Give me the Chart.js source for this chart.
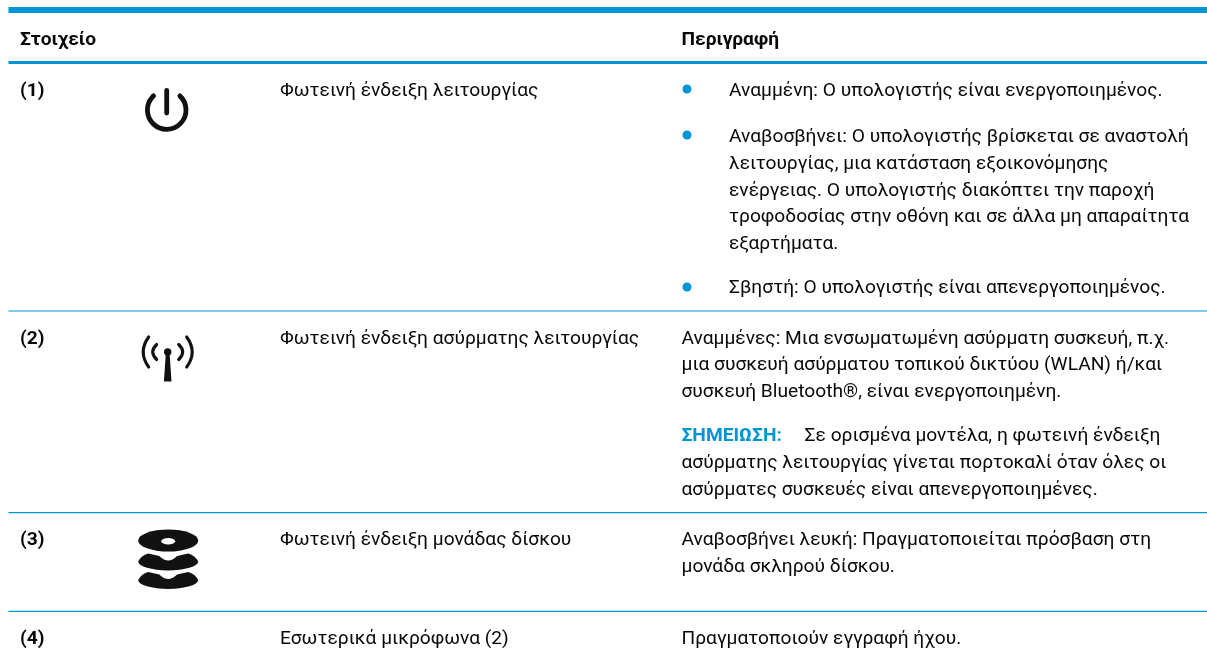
<!DOCTYPE html>
<html lang="el"><head><meta charset="utf-8">
<style>html,body{margin:0;padding:0;background:#fff}canvas{display:block;filter:blur(0.45px)}</style>
<script src="https://cdn.jsdelivr.net/npm/chart.js@4"></script></head>
<body><canvas id="c" width="1207" height="660"></canvas>
<script>
// ---------- content ----------
const headers = ["Στοιχείο", "Περιγραφή"];
const rowNumbers = ["(1)", "(2)", "(3)", "(4)"];
const componentNames = [
  "Φωτεινή ένδειξη λειτουργίας",
  "Φωτεινή ένδειξη ασύρματης λειτουργίας",
  "Φωτεινή ένδειξη μονάδας δίσκου",
  "Εσωτερικά μικρόφωνα (2)"
];
const bulletLines = [
  "Αναμμένη: Ο υπολογιστής είναι ενεργοποιημένος.",
  "Αναβοσβήνει: Ο υπολογιστής βρίσκεται σε αναστολή",
  "λειτουργίας, μια κατάσταση εξοικονόμησης",
  "ενέργειας. Ο υπολογιστής διακόπτει την παροχή",
  "τροφοδοσίας στην οθόνη και σε άλλα μη απαραίτητα",
  "εξαρτήματα.",
  "Σβηστή: Ο υπολογιστής είναι απενεργοποιημένος."
];
const plainLines = [
  "Αναμμένες: Μια ενσωματωμένη ασύρματη συσκευή, π.χ.",
  "μια συσκευή ασύρματου τοπικού δικτύου (WLAN) ή/και",
  "συσκευή Bluetooth®, είναι ενεργοποιημένη.",
  "Σε ορισμένα μοντέλα, η φωτεινή ένδειξη",
  "ασύρματης λειτουργίας γίνεται πορτοκαλί όταν όλες οι",
  "ασύρματες συσκευές είναι απενεργοποιημένες.",
  "Αναβοσβήνει λευκή: Πραγματοποιείται πρόσβαση στη",
  "μονάδα σκληρού δίσκου.",
  "Πραγματοποιούν εγγραφή ήχου."
];
const noteLabel = "ΣΗΜΕΙΩΣΗ:";

// ---------- layout (page units, read through the chart's scales) ----------
const BLUE = "#0096d6", INK = "#080808";
const FONT = "Roboto", SIZE = 19.2;
const colX = {num:20, name:280, desc:681.5, bullet:729, note:804.6, bulletDot:687, left:8.5, right:1207};
const ruleY = {top:10, head:62.5, r1:311, r2:512.7, r3:611.3};
const headerBase = 44.5;
const rowBase = [96, 343.5, 545, 644];
const bulletBase = [96, 142, 169, 195.5, 222, 249, 293];
const bulletDotY = [89, 135, 287];
const plainBase = [343.5, 370, 397, 468, 495, 545, 572, 644];
const noteBase = 441;

const hLine = (y) => [{x:colX.left,y},{x:colX.right,y}];
const rule = (y,w) => ({type:"line",data:hLine(y),borderColor:BLUE,borderWidth:w,pointRadius:0,showLine:true,fill:false});

const tablePlugin = {
  id:"tableText",
  afterDatasetsDraw(chart){
    const {ctx,scales:{x,y}} = chart;
    const put = (s,px,py,font,color)=>{ctx.font=font;ctx.fillStyle=color;ctx.textBaseline="alphabetic";ctx.textAlign="left";ctx.fillText(s,x.getPixelForValue(px),y.getPixelForValue(py));};
    const reg = `400 ${SIZE}px ${FONT}`, bold = `700 ${SIZE}px ${FONT}`;
    ctx.save();
    put(headers[0],colX.num,headerBase,bold,INK);
    put(headers[1],colX.desc,headerBase,bold,INK);
    rowNumbers.forEach((s,i)=>put(s,colX.num,rowBase[i],bold,INK));
    componentNames.forEach((s,i)=>put(s,colX.name,rowBase[i],reg,INK));
    bulletLines.forEach((s,i)=>put(s,colX.bullet,bulletBase[i],reg,INK));
    plainLines.slice(0,3).forEach((s,i)=>put(s,colX.desc,plainBase[i],reg,INK));
    put(noteLabel,colX.desc,noteBase,bold,BLUE);
    put(plainLines[3],colX.note,noteBase,reg,INK);
    plainLines.slice(4).forEach((s,i)=>put(s,colX.desc,plainBase[i+3],reg,INK));
    // icons
    ctx.strokeStyle="#111";ctx.fillStyle="#111";ctx.lineCap="round";
    // power
    ctx.lineWidth=4.8;
    ctx.beginPath();ctx.arc(166.7,110,19.3,-Math.PI/2+0.75,-Math.PI/2-0.75);ctx.stroke();
    ctx.beginPath();ctx.moveTo(166.7,90.5);ctx.lineTo(166.7,113);ctx.stroke();
    // antenna
    const ax=167.7, ay=352;
    ctx.lineWidth=3.1;
    [[-1,19,30,15],[1,19,30,15],[-1,11,19,7.5],[1,11,19,7.5]].forEach(([d,e,c,h])=>{
      ctx.beginPath();ctx.moveTo(ax+d*e,ay-h);
      ctx.quadraticCurveTo(ax+d*c,ay,ax+d*e,ay+h);ctx.stroke();
    });
    ctx.beginPath();ctx.arc(ax,ay,3.7,0,7);ctx.fill();
    ctx.beginPath();ctx.moveTo(ax-1.8,ay);ctx.lineTo(ax+1.8,ay);ctx.lineTo(ax+3.8,381.5);ctx.lineTo(ax-3.8,381.5);ctx.closePath();ctx.fill();
    // disks
    const dx=168.2;
    ctx.beginPath();ctx.ellipse(dx,540.5,30,11,0,0,7);ctx.fill();
    ctx.fillStyle="#fff";ctx.beginPath();ctx.ellipse(dx,541.2,7,3.2,0,0,7);ctx.fill();
    ctx.fillStyle="#111";
    [561.5,580].forEach(cy=>{
      ctx.beginPath();ctx.moveTo(dx-30,cy);
      ctx.ellipse(dx,cy,30,9,0,Math.PI,0,true);
      ctx.quadraticCurveTo(dx+27,cy-6,dx+20,cy-8);
      ctx.lineTo(dx+9,cy-5.5);
      ctx.quadraticCurveTo(dx+4,cy-1,dx,cy-1);
      ctx.quadraticCurveTo(dx-4,cy-1,dx-9,cy-5.5);
      ctx.lineTo(dx-20,cy-8);
      ctx.quadraticCurveTo(dx-27,cy-6,dx-30,cy);
      ctx.closePath();ctx.fill();
    });
    ctx.restore();
  }
};

new Chart(document.getElementById("c"),{
  type:"scatter",
  data:{datasets:[
    rule(ruleY.top,6), rule(ruleY.head,3), rule(ruleY.r1,1.2), rule(ruleY.r2,1.2), rule(ruleY.r3,1.2),
    {type:"scatter",data:bulletDotY.map(y=>({x:colX.bulletDot,y})),pointRadius:4.5,pointBackgroundColor:BLUE,pointBorderWidth:0}
  ]},
  options:{
    responsive:false,animation:false,events:[],
    layout:{padding:0,autoPadding:false},
    plugins:{legend:{display:false},title:{display:false},tooltip:{enabled:false}},
    scales:{
      x:{type:"linear",min:0,max:1207,display:false},
      y:{type:"linear",min:0,max:660,reverse:true,display:false}
    }
  },
  plugins:[tablePlugin]
});
</script></body></html>
